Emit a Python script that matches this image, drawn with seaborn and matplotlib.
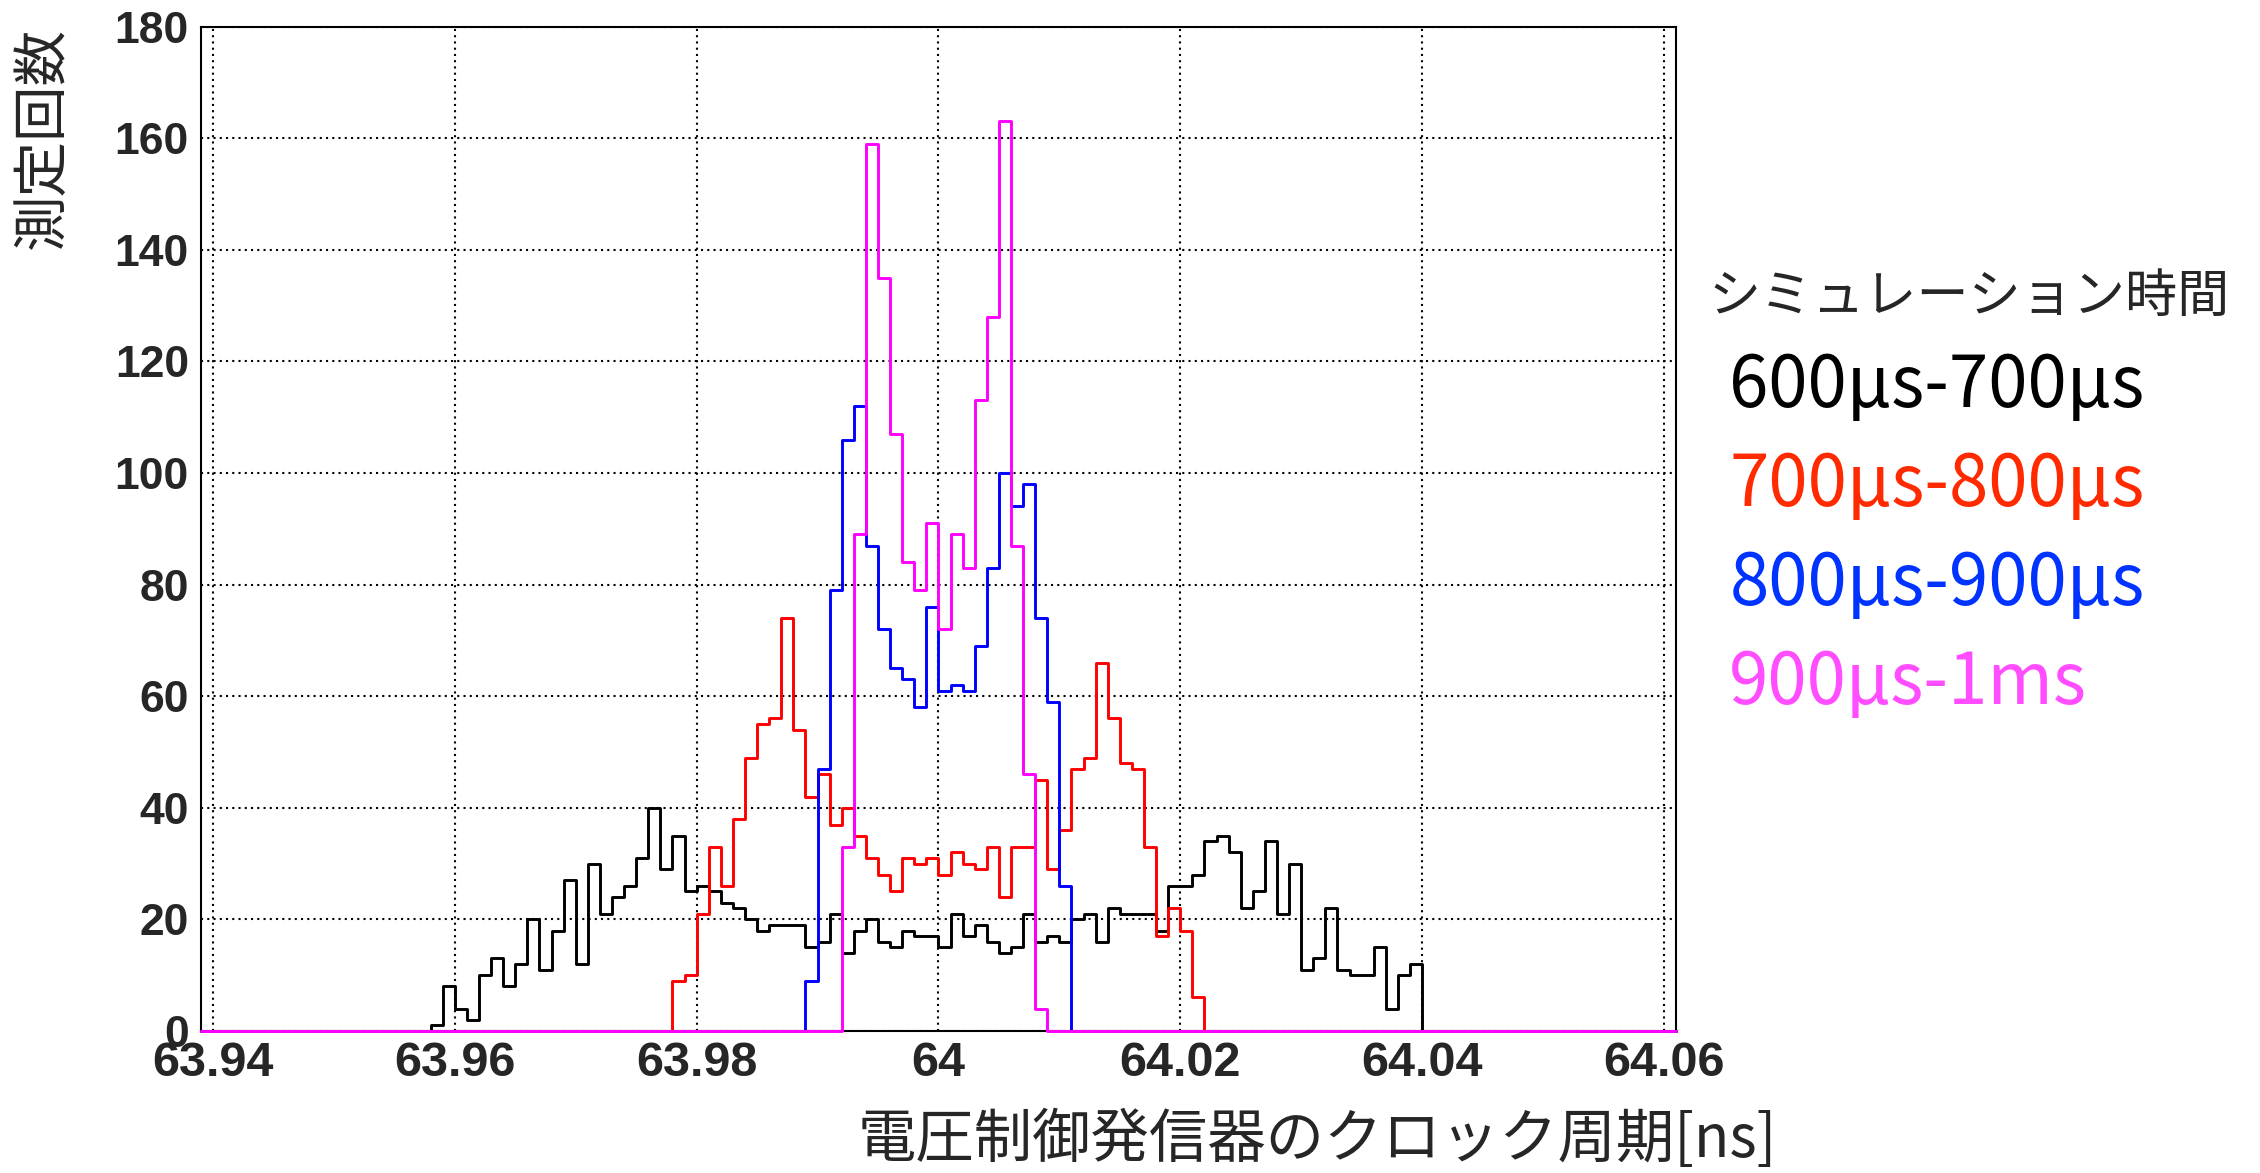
import numpy as np
import pandas as pd
import matplotlib
matplotlib.use("Agg")
import matplotlib.pyplot as plt
from matplotlib.ticker import MultipleLocator
from matplotlib.lines import Line2D
import seaborn as sns

# ---------------- data ----------------
bin_width = 0.001
axis_lo, axis_hi = 63.939, 64.061
x_ticks = [63.94, 63.96, 63.98, 64.00, 64.02, 64.04, 64.06]
x_tick_labels = ["63.94", "63.96", "63.98", "64", "64.02", "64.04", "64.06"]
y_ticks = [0, 20, 40, 60, 80, 100, 120, 140, 160, 180]

series_names = ["600μs-700μs", "700μs-800μs", "800μs-900μs", "900μs-1ms"]
line_colors = ["#000000", "#ff0000", "#0000ff", "#ff00ff"]
text_colors = ["#000000", "#ff2a00", "#0033ff", "#ff4dff"]

black_first_bin = 63.958
black_counts = [1, 8, 4, 2, 10, 13, 8, 12, 20, 11,
                18, 27, 12, 30, 21, 24, 26, 31, 40, 29,
                35, 25, 26, 25, 23, 22, 20, 18, 19, 19,
                19, 15, 16, 21, 14, 18, 20, 16, 15, 18,
                17, 17, 15, 21, 17, 19, 16, 14, 15, 21,
                16, 17, 16, 20, 21, 16, 22, 21, 21, 21,
                18, 26, 26, 28, 34, 35, 32, 22, 25, 34,
                21, 30, 11, 13, 22, 11, 10, 10, 15, 4, 10, 12]

red_first_bin = 63.978
red_counts = [9, 10, 21, 33, 26, 38, 49, 55, 56, 74,
              54, 42, 46, 37, 40, 35, 31, 28, 25, 31,
              30, 31, 28, 32, 30, 29, 33, 24, 33, 33,
              45, 29, 36, 47, 49, 66, 56, 48, 47, 33,
              17, 22, 18, 6]

blue_first_bin = 63.989
blue_counts = [9, 47, 79, 106, 112, 87, 72, 65, 63, 58, 76,
               61, 62, 61, 69, 83, 100, 94, 98, 74, 59, 26]

magenta_first_bin = 63.992
magenta_counts = [33, 89, 159, 135, 107, 84, 79, 91, 72,
                  89, 83, 113, 128, 163, 87, 46, 4]

first_bins = [black_first_bin, red_first_bin, blue_first_bin, magenta_first_bin]
all_counts = [black_counts, red_counts, blue_counts, magenta_counts]

# ---------------- style ----------------
sns.set_style("white")
cjk = ["Noto Sans CJK JP", "DejaVu Sans"]
plt.rcParams["font.family"] = cjk

n_bins = int(round((axis_hi - axis_lo) / bin_width))
centers = axis_lo + (np.arange(n_bins) + 0.5) * bin_width

fig = plt.figure(figsize=(22.6, 11.73), dpi=100)
ax = fig.add_axes([0.0889, 0.1211, 0.6527, 0.8562])

for first, counts, color, name in zip(first_bins, all_counts, line_colors, series_names):
    full = np.zeros(n_bins)
    i0 = int(round((first - axis_lo) / bin_width))
    full[i0:i0 + len(counts)] = counts
    df = pd.DataFrame({"period": centers, "count": full})
    sns.histplot(data=df, x="period", weights="count", bins=n_bins,
                 binrange=(axis_lo, axis_hi), element="step",
                 fill=False, color=color, linewidth=2.1, ax=ax, clip_on=False,
                 zorder=3, label=name)

ax.set_xlim(axis_lo, axis_hi)
ax.set_ylim(0, 180)
ax.set_xticks(x_ticks, x_tick_labels)
ax.set_yticks(y_ticks, [str(v) for v in y_ticks])
ax.xaxis.set_minor_locator(MultipleLocator(0.005))
ax.yaxis.set_minor_locator(MultipleLocator(5))

ax.tick_params(axis="x", which="major", direction="in", length=24, width=1.5,
               pad=7, labelsize=35, top=False)
ax.tick_params(axis="x", which="minor", direction="in", length=11.5, width=1.5, top=False)
ax.tick_params(axis="y", which="major", direction="in", length=29, width=1.5,
               pad=8.6, labelsize=32, right=False)
ax.tick_params(axis="y", which="minor", direction="in", length=16, width=1.5, right=False)
for lab in ax.get_xticklabels() + ax.get_yticklabels():
    lab.set_fontfamily("Liberation Sans")
    lab.set_fontweight("bold")

ax.grid(True, which="major", axis="both", color="black",
        linestyle=(0, (1, 2)), linewidth=1.5)
ax.set_axisbelow(True)
for sp in ax.spines.values():
    sp.set_visible(True)
    sp.set_color("black")
    sp.set_linewidth(1.5)

ax.set_xlabel("電圧制御発信器のクロック周期[ns]", fontsize=42, ha="right", va="center")
ax.xaxis.set_label_coords(1.0685, -0.1095)
ax.set_ylabel("測定回数", fontsize=40, ha="right", va="center")
ax.yaxis.set_label_coords(-0.107, 1.0)

handles = [Line2D([], [], color=c, linewidth=0) for c in line_colors]
leg = ax.legend(handles, series_names, title="シミュレーション時間",
                loc="upper left", bbox_to_anchor=(0.7558, 0.7698),
                bbox_transform=fig.transFigure, frameon=False,
                handlelength=0, handletextpad=0.3, borderpad=0, borderaxespad=0,
                labelspacing=0.37, prop={"family": cjk, "size": 51},
                title_fontproperties={"family": cjk, "size": 37.5},
                alignment="left", labelcolor=text_colors)

fig.savefig("out.png", dpi=100)
